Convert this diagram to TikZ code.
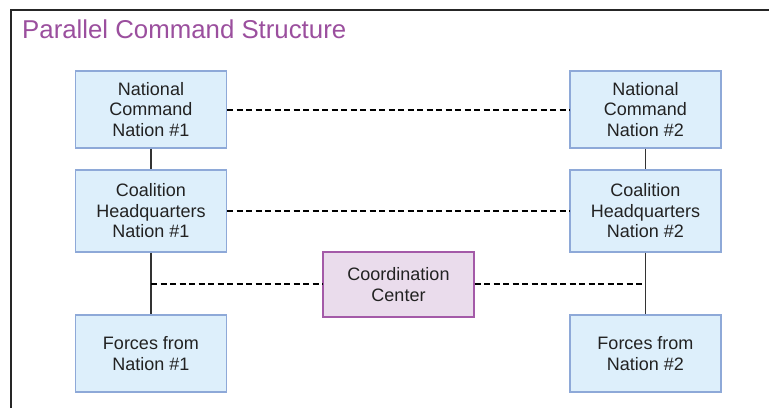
\documentclass[tikz,border=0pt]{standalone}
\usepackage{fontspec}
\setmainfont{Liberation Sans}
\begin{document}
\begin{tikzpicture}[x=1pt,y=-1pt,
  nbox/.style={draw=boxline, fill=boxfill, line width=1.2pt, minimum width=151pt, minimum height=77pt, align=center, inner sep=0pt, font=\fontsize{18}{20.5}\selectfont, text=txt},
  cbox/.style={draw=ccline, fill=ccfill, line width=1.2pt, minimum width=151pt, minimum height=65pt, align=center, inner sep=0pt, font=\fontsize{18}{20.5}\selectfont, text=txt},
  solidlink/.style={draw=linegray, line width=1.5pt},
  dashlink/.style={draw=black, line width=2pt, dash pattern=on 6pt off 3.5pt}
]
\definecolor{boxfill}{HTML}{DDEFFB}
\definecolor{boxline}{HTML}{8EA9D8}
\definecolor{ccfill}{HTML}{EADCEC}
\definecolor{ccline}{HTML}{A45AA8}
\definecolor{txt}{HTML}{222222}
\definecolor{linegray}{HTML}{333333}
\definecolor{titlec}{HTML}{9B4F9E}
\useasboundingbox (0,0) rectangle (769,408);
\fill[white] (0,0) rectangle (769,408);
\draw[line width=2pt, black!85] (11,408) -- (11,10) -- (769,10);
\node[anchor=base west, inner sep=0pt, text=titlec, font=\fontsize{25.8}{28}\selectfont] (title) at (22,38) {Parallel Command Structure};

\node[nbox] (nc1) at (151,109.5) {National\\Command\\Nation \#1};
\node[nbox, minimum height=82pt] (ch1) at (151,211) {Coalition\\Headquarters\\Nation \#1};
\node[nbox] (f1) at (151,353.5) {Forces from\\Nation \#1};
\node[nbox] (nc2) at (645.5,109.5) {National\\Command\\Nation \#2};
\node[nbox, minimum height=82pt] (ch2) at (645.5,211) {Coalition\\Headquarters\\Nation \#2};
\node[nbox] (f2) at (645.5,353.5) {Forces from\\Nation \#2};
\node[cbox] (cc) at (398.5,284.5) {Coordination\\Center};

\coordinate (j1) at (151,284);
\coordinate (j2) at (645.5,284);

\draw[solidlink] (nc1) -- (ch1);
\draw[solidlink] (ch1) -- (f1);
\draw[solidlink] (nc2) -- (ch2);
\draw[solidlink] (ch2) -- (f2);
\draw[dashlink] (nc1) -- (nc2);
\draw[dashlink] (ch1) -- (ch2);
\draw[dashlink] (j1) -- (cc.west |- j1);
\draw[dashlink] (cc.east |- j2) -- (j2);
\end{tikzpicture}
\end{document}
